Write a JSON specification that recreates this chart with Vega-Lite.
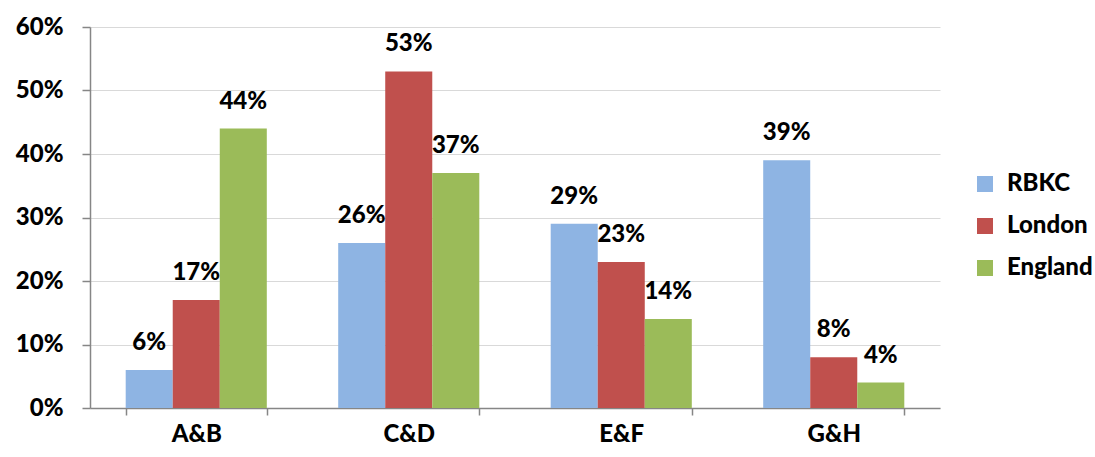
{
  "$schema": "https://vega.github.io/schema/vega-lite/v6.json",
  "width": 850,
  "height": 381,
  "autosize": {"type": "none"},
  "padding": {"left": 90, "top": 27, "right": 155, "bottom": 49},
  "background": "white",
  "config": {
    "view": {"stroke": null},
    "font": "Lato",
    "axis": {"labelFont": "Lato", "labelFontWeight": 900, "labelColor": "#000000", "labelFontSize": 24, "domainColor": "#868686", "tickColor": "#868686", "gridColor": "#d9d9d9", "domainWidth": 1.5, "tickWidth": 1.5}
  },
  "data": {
    "values": [
      {"cat": "A&B", "series": "RBKC", "v": 0.06},
      {"cat": "A&B", "series": "London", "v": 0.17},
      {"cat": "A&B", "series": "England", "v": 0.44},
      {"cat": "C&D", "series": "RBKC", "v": 0.26},
      {"cat": "C&D", "series": "London", "v": 0.53},
      {"cat": "C&D", "series": "England", "v": 0.37},
      {"cat": "E&F", "series": "RBKC", "v": 0.29},
      {"cat": "E&F", "series": "London", "v": 0.23},
      {"cat": "E&F", "series": "England", "v": 0.14},
      {"cat": "G&H", "series": "RBKC", "v": 0.39},
      {"cat": "G&H", "series": "London", "v": 0.08},
      {"cat": "G&H", "series": "England", "v": 0.04}
    ]
  },
  "encoding": {
    "x": {
      "field": "cat", "type": "nominal", "title": null,
      "scale": {"paddingInner": 0.336, "paddingOuter": 0.168},
      "axis": {"labelAngle": 0, "tickBand": "extent", "tickSize": 7, "labelPadding": 7, "domain": true, "grid": false}
    },
    "xOffset": {"field": "series", "type": "nominal", "sort": ["RBKC", "London", "England"], "scale": {"paddingInner": 0, "paddingOuter": 0}},
    "y": {
      "field": "v", "type": "quantitative", "title": null,
      "scale": {"domain": [0, 0.6], "nice": false},
      "axis": {"values": [0, 0.1, 0.2, 0.3, 0.4, 0.5, 0.6], "format": ".0%", "tickSize": 8, "labelPadding": 19, "grid": true, "labelBaseline": "middle"}
    }
  },
  "layer": [
    {
      "mark": {"type": "bar"},
      "encoding": {
        "color": {
          "field": "series", "type": "nominal", "sort": ["RBKC", "London", "England"],
          "scale": {"domain": ["RBKC", "London", "England"], "range": ["#8EB4E3", "#C0504D", "#9BBB59"]},
          "legend": {
            "title": null, "orient": "none", "legendX": 883, "legendY": 145,
            "symbolType": "square", "symbolSize": 256, "symbolStrokeWidth": 0,
            "labelFont": "Lato", "labelFontSize": 24, "labelFontWeight": 900, "labelColor": "#000000",
            "rowPadding": 18, "labelOffset": 10
          }
        }
      }
    },
    {
      "mark": {"type": "text", "baseline": "alphabetic", "dy": -20, "font": "Lato", "fontWeight": 900, "fontSize": 24, "color": "#000000"},
      "encoding": {
        "text": {"field": "v", "type": "quantitative", "format": ".0%"}
      }
    }
  ]
}
